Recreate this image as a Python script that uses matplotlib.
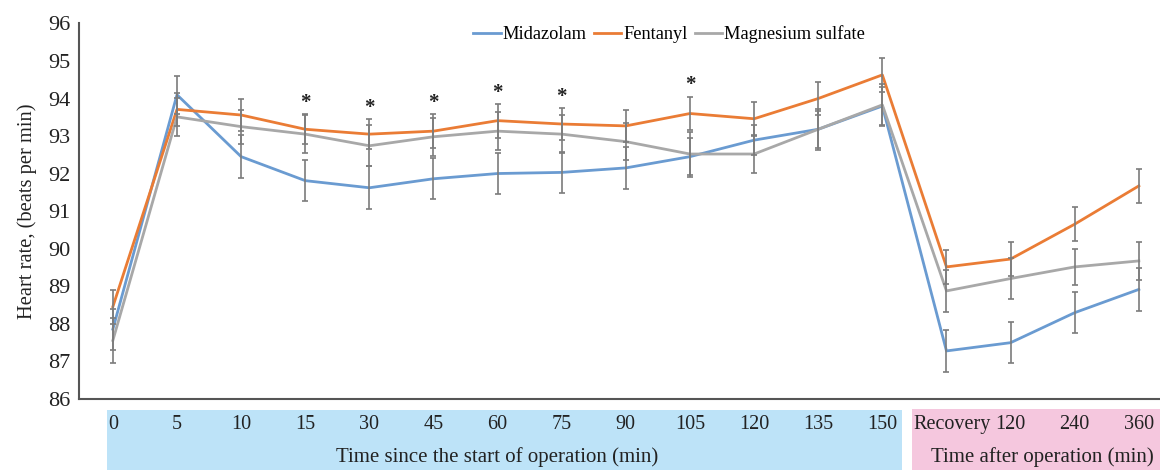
import matplotlib
matplotlib.use("Agg")
import matplotlib.pyplot as plt
import matplotlib.transforms as mtransforms
from matplotlib.patches import Rectangle

plt.rcParams['font.family'] = ['Liberation Serif', 'DejaVu Serif']

# categories on the x axis
time_labels = ['0', '5', '10', '15', '30', '45', '60', '75', '90', '105', '120', '135', '150',
               'Recovery', '120', '240', '360']

# heart rate means (beats per min)
midazolam = [87.85, 94.1, 92.45, 91.81, 91.62, 91.86, 92.0, 92.03, 92.15, 92.45, 92.89, 93.18, 93.8,
             87.27, 87.49, 88.29, 88.91]
fentanyl = [88.45, 93.71, 93.56, 93.18, 93.05, 93.13, 93.41, 93.32, 93.27, 93.6, 93.46, 94.0, 94.63,
            89.51, 89.72, 90.65, 91.67]
magnesium = [87.55, 93.51, 93.25, 93.05, 92.74, 92.98, 93.13, 93.05, 92.85, 92.52, 92.52, 93.18, 93.83,
             88.87, 89.2, 89.51, 89.67]

# error bar half widths
midazolam_err = [0.55, 0.5, 0.57, 0.55, 0.57, 0.55, 0.55, 0.55, 0.55, 0.5, 0.4, 0.5, 0.5,
                 0.55, 0.55, 0.55, 0.57]
fentanyl_err = [0.45, 0.45, 0.42, 0.4, 0.4, 0.45, 0.45, 0.43, 0.42, 0.45, 0.45, 0.45, 0.45,
                0.45, 0.45, 0.45, 0.45]
magnesium_err = [0.6, 0.5, 0.45, 0.5, 0.55, 0.5, 0.5, 0.5, 0.5, 0.6, 0.5, 0.55, 0.55,
                 0.55, 0.55, 0.47, 0.5]

# time points marked with an asterisk
star_idx = [3, 4, 5, 6, 7, 9]

x = list(range(len(time_labels)))

fig = plt.figure(figsize=(11.6, 4.7), dpi=100)
ax = fig.add_axes([0.068, 0.152, 0.932, 0.798])

c_blue = '#6a9bd1'
c_orange = '#ea7c35'
c_gray = '#a8a8a8'
c_err = '#7c7c7c'

ax.plot(x, midazolam, color=c_blue, lw=2.0, label='Midazolam', zorder=3)
ax.plot(x, fentanyl, color=c_orange, lw=2.0, label='Fentanyl', zorder=3)
ax.plot(x, magnesium, color=c_gray, lw=2.0, label='Magnesium sulfate', zorder=3)

for vals, errs in [(midazolam, midazolam_err), (fentanyl, fentanyl_err), (magnesium, magnesium_err)]:
    ax.errorbar(x, vals, yerr=errs, fmt='none', ecolor=c_err, elinewidth=1.2,
                capsize=2.5, capthick=1.2, zorder=4)

for i in star_idx:
    top = max(fentanyl[i] + fentanyl_err[i], magnesium[i] + magnesium_err[i], midazolam[i] + midazolam_err[i])
    ax.text(i, top + 0.3, '*', ha='center', va='center', fontsize=15, fontweight='bold', color='#222222')

ax.set_xlim(-0.53, 16.33)
ax.set_ylim(86, 96)
ax.set_yticks(range(86, 97))
ax.tick_params(axis='y', labelsize=16, length=0, pad=6, labelcolor='#222222')
ax.set_xticks(x)
ax.set_xticklabels(time_labels)
ax.tick_params(axis='x', labelsize=14.5, length=0, pad=12, labelcolor='#222222')
# nudge "Recovery" a bit right so it sits inside the pink box
lab = ax.get_xticklabels()[13]
lab.set_transform(lab.get_transform() + mtransforms.ScaledTranslation(4 / 72, 0, fig.dpi_scale_trans))

ax.spines['top'].set_visible(False)
ax.spines['right'].set_visible(False)
for s in ['left', 'bottom']:
    ax.spines[s].set_color('#555555')
    ax.spines[s].set_linewidth(1.5)

ax.set_ylabel('Heart rate, (beats per min)', fontsize=14.8, labelpad=8, color='#222222')

# coloured boxes behind the x tick labels
trans = mtransforms.blended_transform_factory(ax.transData, ax.transAxes)
ax.add_patch(Rectangle((-0.09, -0.19), 12.39, 0.159, transform=trans, clip_on=False,
                       facecolor='#bde3f8', edgecolor='none', zorder=0))
ax.add_patch(Rectangle((12.46, -0.19), 3.9, 0.163, transform=trans, clip_on=False,
                       facecolor='#f5c7de', edgecolor='none', zorder=0))

ax.text(6.0, -0.157, 'Time since the start of operation (min)', transform=trans,
        ha='center', va='center', fontsize=15, color='#222222')
ax.text(14.5, -0.157, 'Time after operation (min)', transform=trans,
        ha='center', va='center', fontsize=15, color='#222222')

ax.legend(loc='center', bbox_to_anchor=(0.546, 0.972), ncol=3, frameon=False, fontsize=13.2,
          handlelength=1.5, handletextpad=0.1, columnspacing=0.4)

fig.savefig('out.png', dpi=100)
